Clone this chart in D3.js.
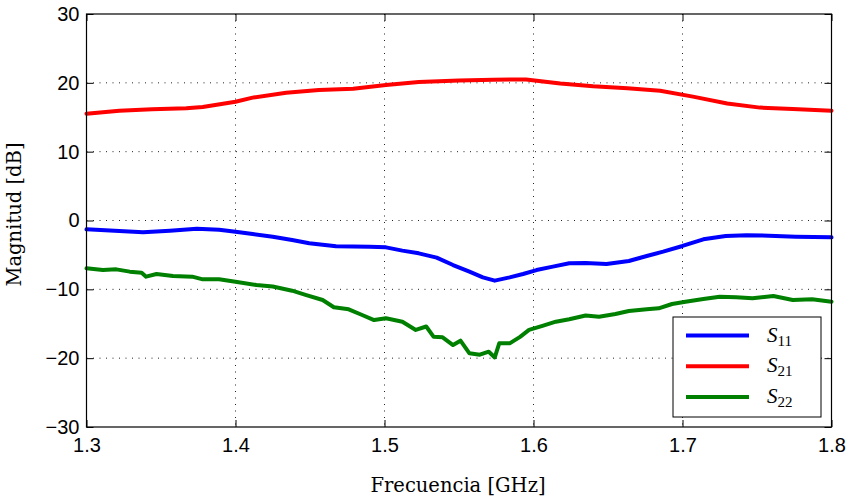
<!DOCTYPE html>
<html>
<head>
<meta charset="utf-8">
<script src="https://d3js.org/d3.v7.min.js"></script>
<style>
  body { margin: 0; background: #fff; }
  .tick text { font-family: "Liberation Sans", Arial, sans-serif; font-size: 20px; fill: #000; }
  .lbl { font-family: "DejaVu Serif", serif; font-size: 19.5px; fill: #000; }
</style>
</head>
<body>
<div id="chart"></div>
<script>
// values
var xTicks = [1.3, 1.4, 1.5, 1.6, 1.7, 1.8];
var yTicks = [-30, -20, -10, 0, 10, 20, 30];

var s21F = [1.300,1.322,1.344,1.367,1.378,1.400,1.4115,1.434,1.456,1.479,1.501,1.523,1.550,1.573,1.595,1.618,1.640,1.663,1.685,1.707,1.730,1.752,1.774,1.800];
var s21 = [15.5,15.95,16.15,16.3,16.5,17.26,17.85,18.57,18.96,19.15,19.69,20.12,20.35,20.45,20.5,19.9,19.5,19.2,18.86,18.0,17.0,16.4,16.2,15.95];

var s11F = [1.300,1.322,1.338,1.356,1.374,1.389,1.400,1.4115,1.425,1.438,1.4495,1.4675,1.490,1.501,1.512,1.523,1.535,1.546,1.557,1.566,1.574,1.584,1.593,1.602,1.613,1.624,1.635,1.649,1.664,1.676,1.687,1.700,1.714,1.729,1.743,1.758,1.776,1.800];
var s11 = [-1.28,-1.53,-1.7,-1.48,-1.19,-1.33,-1.62,-1.96,-2.35,-2.83,-3.3,-3.75,-3.8,-3.9,-4.38,-4.77,-5.4,-6.47,-7.43,-8.26,-8.74,-8.26,-7.77,-7.2,-6.7,-6.22,-6.17,-6.32,-5.88,-5.16,-4.53,-3.7,-2.73,-2.25,-2.15,-2.2,-2.35,-2.45];

var s22F = [1.300,1.311,1.320,1.329,1.337,1.340,1.347,1.358,1.371,1.378,1.389,1.400,1.414,1.425,1.438,1.447,1.4585,1.466,1.476,1.485,1.493,1.501,1.512,1.521,1.528,1.533,1.539,1.546,1.551,1.557,1.564,1.570,1.574,1.577,1.584,1.591,1.597,1.606,1.615,1.624,1.635,1.644,1.655,1.664,1.676,1.684,1.693,1.702,1.714,1.725,1.736,1.747,1.761,1.774,1.787,1.800];
var s22 = [-6.95,-7.2,-7.1,-7.43,-7.58,-8.16,-7.77,-8.06,-8.16,-8.55,-8.55,-8.9,-9.37,-9.6,-10.2,-10.8,-11.55,-12.6,-12.9,-13.73,-14.46,-14.2,-14.7,-15.9,-15.4,-16.9,-16.97,-18.1,-17.46,-19.3,-19.5,-19.06,-19.9,-17.85,-17.85,-16.9,-15.9,-15.3,-14.7,-14.35,-13.8,-13.97,-13.58,-13.15,-12.9,-12.76,-12.13,-11.8,-11.4,-11.07,-11.16,-11.3,-10.97,-11.55,-11.45,-11.8];

var series = [
  {name: "11", f: s11F, v: s11, color: "#0000ff"},
  {name: "21", f: s21F, v: s21, color: "#ff0000"},
  {name: "22", f: s22F, v: s22, color: "#008000"}
];

var margin = {top: 14, right: 19.5, bottom: 74, left: 86.5},
    width = 851 - margin.left - margin.right,
    height = 501 - margin.top - margin.bottom;

var svg = d3.select("#chart")
  .append("svg")
  .attr("width", 851)
  .attr("height", 501)
  .append("g")
  .attr("transform", "translate(" + margin.left + "," + margin.top + ")");

var x = d3.scaleLinear().domain([1.3, 1.8]).range([0, width]);
var y = d3.scaleLinear().domain([-30, 30]).range([height, 0]);

// dotted grid
svg.append("g").selectAll("line").data(xTicks.slice(1, -1)).enter().append("line")
  .attr("x1", d => x(d)).attr("x2", d => x(d))
  .attr("y1", 0).attr("y2", height)
  .attr("stroke", "#222").attr("stroke-width", 1).attr("stroke-dasharray", "1,5.5");
svg.append("g").selectAll("line").data(yTicks.slice(1, -1)).enter().append("line")
  .attr("y1", d => y(d)).attr("y2", d => y(d))
  .attr("x1", 0).attr("x2", width)
  .attr("stroke", "#222").attr("stroke-width", 1).attr("stroke-dasharray", "1,5.5");

// curves
var line = d3.line()
  .x(d => x(d[0]))
  .y(d => y(d[1]));

series.forEach(function(s) {
  svg.append("path")
    .datum(d3.zip(s.f, s.v))
    .attr("fill", "none")
    .attr("stroke", s.color)
    .attr("stroke-width", 4)
    .attr("stroke-linejoin", "round")
    .attr("stroke-linecap", "round")
    .attr("d", line);
});

// axes, ticks pointing inward like matlab
svg.append("g")
  .attr("transform", "translate(0," + height + ")")
  .call(d3.axisBottom(x).tickValues(xTicks).tickFormat(d3.format(".1f")).tickSizeInner(-7).tickSizeOuter(0).tickPadding(11));
svg.append("g")
  .call(d3.axisLeft(y).tickValues(yTicks).tickSizeInner(-7).tickSizeOuter(0).tickPadding(7));
svg.append("g")
  .call(d3.axisTop(x).tickValues(xTicks).tickFormat("").tickSizeInner(-7).tickSizeOuter(0));
svg.append("g")
  .attr("transform", "translate(" + width + ",0)")
  .call(d3.axisRight(y).tickValues(yTicks).tickFormat("").tickSizeInner(-7).tickSizeOuter(0));
svg.selectAll(".domain").remove();
svg.selectAll(".tick line").attr("stroke", "#000");

svg.append("rect")
  .attr("width", width).attr("height", height)
  .attr("fill", "none").attr("stroke", "#000").attr("stroke-width", 1.2);

// axis labels
svg.append("text")
  .attr("class", "lbl")
  .attr("x", width / 2 - 1)
  .attr("y", height + 65)
  .style("text-anchor", "middle")
  .text("Frecuencia [GHz]");
svg.append("text")
  .attr("class", "lbl")
  .attr("transform", "rotate(-90)")
  .attr("x", -(height / 2 - 6))
  .attr("y", -66)
  .style("text-anchor", "middle")
  .text("Magnitud [dB]");

// legend
var legX = 673 - margin.left, legY = 317 - margin.top;
var leg = svg.append("g").attr("transform", "translate(" + legX + "," + legY + ")");
leg.append("rect")
  .attr("width", 148).attr("height", 100)
  .attr("fill", "#fff").attr("stroke", "#000").attr("stroke-width", 1);
series.forEach(function(s, i) {
  var yy = 18.5 + i * 30.7;
  leg.append("line")
    .attr("x1", 13).attr("x2", 76)
    .attr("y1", yy).attr("y2", yy)
    .attr("stroke", s.color).attr("stroke-width", 4);
  var t = leg.append("text")
    .attr("x", 94).attr("y", yy + 6)
    .attr("font-family", "Liberation Serif, DejaVu Serif, serif")
    .attr("font-size", 21);
  t.append("tspan").attr("font-style", "italic").text("S");
  t.append("tspan").attr("font-size", 15).attr("dy", 4).text(s.name);
});
</script>
</body>
</html>
